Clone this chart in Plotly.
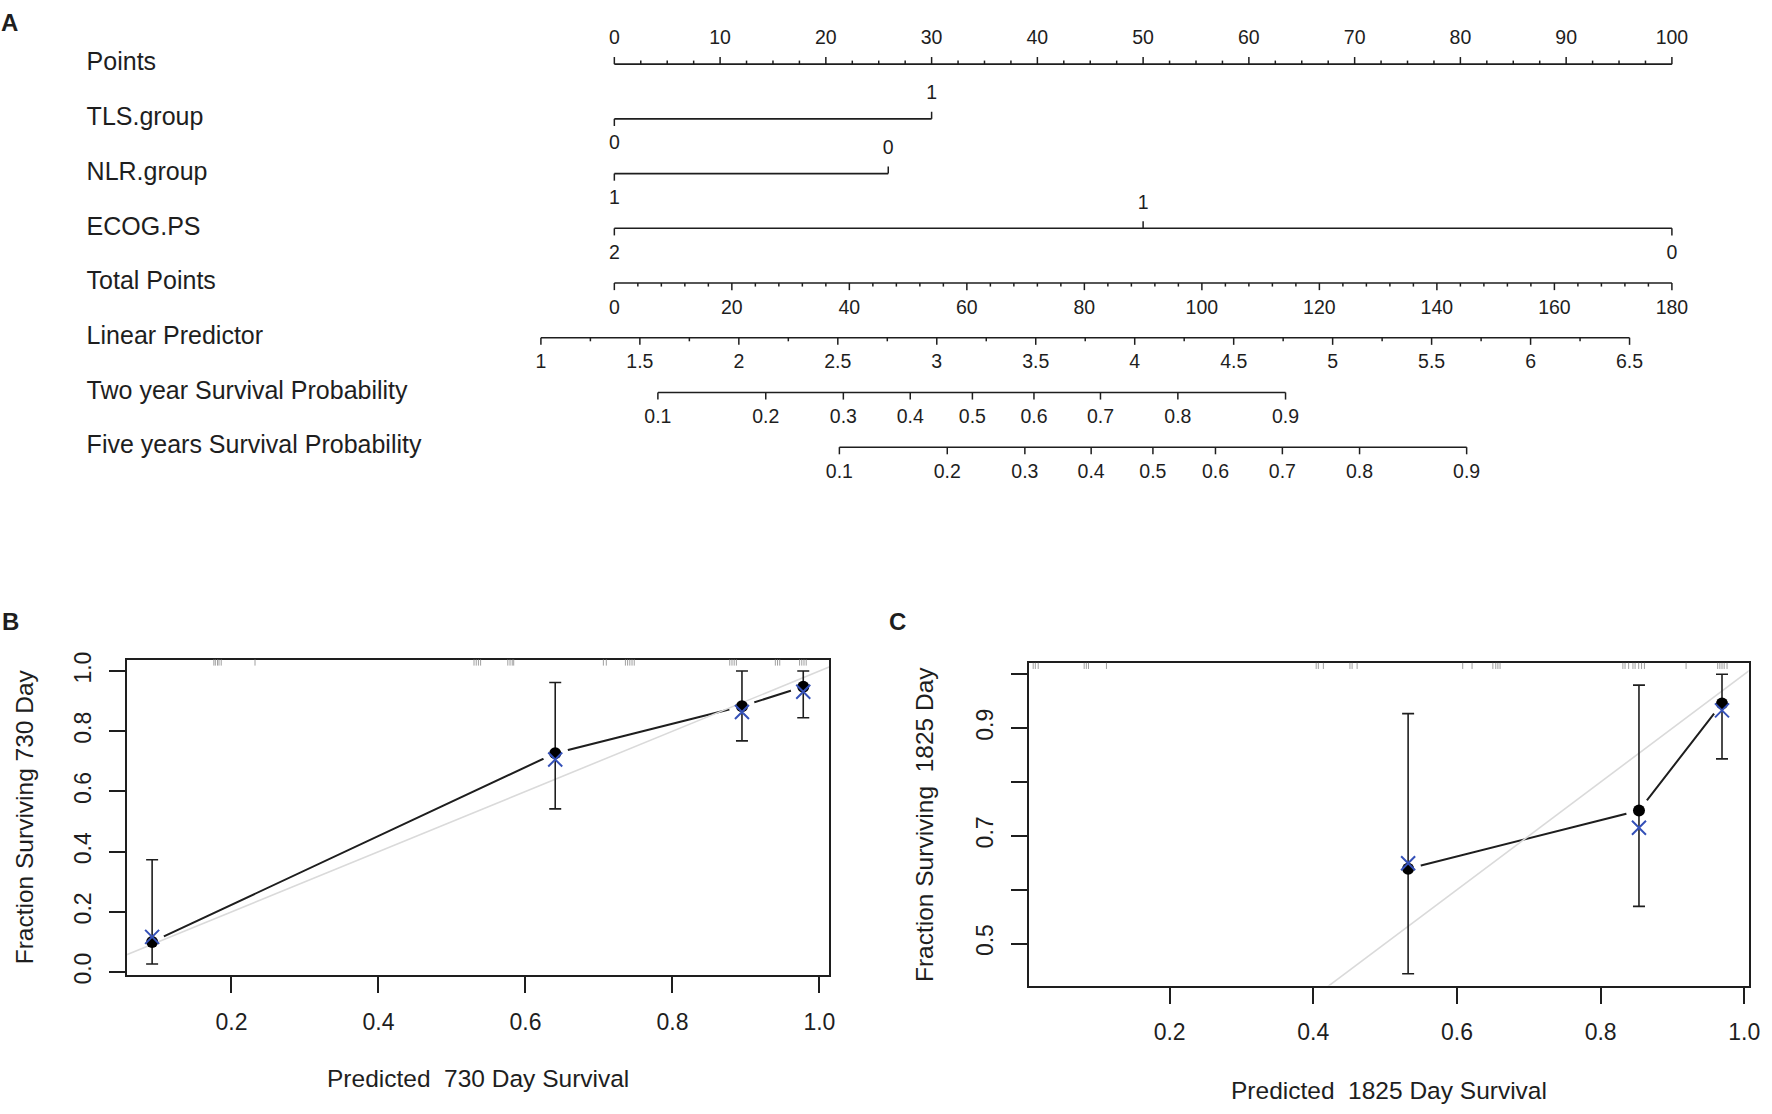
import numpy as np
import plotly.graph_objects as go

FONT = "Liberation Sans, Arial, sans-serif"
INK = "#1e1e1e"
BLUE = "#3551b8"
W, H = 1772, 1114

# ---------------- panel A: nomogram ----------------
row_names = ["Points", "TLS.group", "NLR.group", "ECOG.PS", "Total Points",
             "Linear Predictor", "Two year Survival Probability",
             "Five years Survival Probability"]

points_ticks = [0, 10, 20, 30, 40, 50, 60, 70, 80, 90, 100]

tls_levels = ["0", "1"]
tls_points = [0, 30]
tls_sides = ["below", "above"]

nlr_levels = ["1", "0"]
nlr_points = [0, 25.9]
nlr_sides = ["below", "above"]

ecog_levels = ["2", "1", "0"]
ecog_points = [0, 50, 100]
ecog_sides = ["below", "above", "below"]

total_ticks = [0, 20, 40, 60, 80, 100, 120, 140, 160, 180]
total_max = 180

lp_ticks = [1, 1.5, 2, 2.5, 3, 3.5, 4, 4.5, 5, 5.5, 6, 6.5]
lp_at_0, lp_at_100 = 1.371, 6.714

surv_probs = [0.1, 0.2, 0.3, 0.4, 0.5, 0.6, 0.7, 0.8, 0.9]
two_year_lp = [1.591, 2.136, 2.528, 2.866, 3.180, 3.491, 3.827, 4.218, 4.762]
five_year_lp = [2.508, 3.053, 3.445, 3.780, 4.092, 4.408, 4.746, 5.136, 5.677]

# ---------------- panel B / C: calibration ----------------
pred_730 = [0.092, 0.6405, 0.8946, 0.978]
obs_730 = [0.100, 0.727, 0.883, 0.948]
corr_730 = [0.117, 0.706, 0.864, 0.931]
lo_730 = [0.027, 0.542, 0.768, 0.845]
hi_730 = [0.373, 0.962, 1.0, 1.0]
rug_730 = [0.176, 0.178, 0.181, 0.183, 0.186, 0.232, 0.530, 0.533, 0.536, 0.539,
           0.576, 0.579, 0.582, 0.584, 0.706, 0.710, 0.736, 0.739, 0.742, 0.745,
           0.748, 0.878, 0.881, 0.884, 0.887, 0.940, 0.943, 0.946, 0.973, 0.976,
           0.979, 0.982]

pred_1825 = [0.532, 0.8534, 0.969]
obs_1825 = [0.639, 0.747, 0.946]
corr_1825 = [0.649, 0.715, 0.933]
lo_1825 = [0.444, 0.569, 0.843]
hi_1825 = [0.927, 0.980, 1.0]
rug_1825 = [0.010, 0.013, 0.017, 0.081, 0.084, 0.087, 0.112, 0.404, 0.407, 0.414,
            0.451, 0.454, 0.461, 0.608, 0.621, 0.650, 0.654, 0.657, 0.660, 0.831,
            0.834, 0.839, 0.845, 0.848, 0.853, 0.857, 0.861, 0.919, 0.963, 0.966,
            0.969, 0.972, 0.976]


def lp_to_points(v):
    return [(x - lp_at_0) / (lp_at_100 - lp_at_0) * 100 for x in v]


fig = go.Figure()

TICK, MINOR = 0.13, 0.065
ABOVE, BELOW = -0.45, 0.47


def scale_row(row, pos, labels, sides, minor=(), minor_side="below"):
    fig.add_trace(go.Scatter(
        x=[min(pos), max(pos)], y=[row, row], mode="lines",
        line=dict(color=INK, width=1.6), xaxis="x", yaxis="y",
        hoverinfo="skip", showlegend=False))
    xs, ys = [], []
    for p, s in zip(pos, sides):
        d = -TICK if s == "above" else TICK
        xs += [p, p, None]
        ys += [row, row + d, None]
    dm = -MINOR if minor_side == "above" else MINOR
    for p in minor:
        xs += [p, p, None]
        ys += [row, row + dm, None]
    fig.add_trace(go.Scatter(
        x=xs, y=ys, mode="lines", line=dict(color=INK, width=1.5),
        xaxis="x", yaxis="y", hoverinfo="skip", showlegend=False))
    fig.add_trace(go.Scatter(
        x=pos, y=[row + (ABOVE if s == "above" else BELOW) for s in sides],
        text=labels, mode="text", textposition="middle center",
        textfont=dict(family=FONT, size=19.5, color=INK),
        xaxis="x", yaxis="y", hoverinfo="skip", showlegend=False))


# Points
scale_row(0, points_ticks, [str(v) for v in points_ticks],
          ["above"] * len(points_ticks),
          minor=[v for v in np.arange(0, 100.01, 2.5) if v % 10],
          minor_side="above")
# categorical predictors
scale_row(1, tls_points, tls_levels, tls_sides)
scale_row(2, nlr_points, nlr_levels, nlr_sides)
scale_row(3, ecog_points, ecog_levels, ecog_sides)
# Total points
tot_pos = [v * 100 / total_max for v in total_ticks]
tot_minor = [v * 100 / total_max for v in np.arange(0, 180.1, 4) if v % 20]
scale_row(4, tot_pos, [str(v) for v in total_ticks], ["below"] * len(tot_pos),
          minor=tot_minor)
# Linear predictor
lp_minor = lp_to_points([v for v in np.arange(1, 6.51, 0.25) if (v * 2) % 1])
scale_row(5, lp_to_points(lp_ticks), [f"{v:g}" for v in lp_ticks],
          ["below"] * len(lp_ticks), minor=lp_minor)
# survival probabilities
scale_row(6, lp_to_points(two_year_lp), [f"{v:g}" for v in surv_probs],
          ["below"] * len(surv_probs))
scale_row(7, lp_to_points(five_year_lp), [f"{v:g}" for v in surv_probs],
          ["below"] * len(surv_probs))

fig.add_trace(go.Scatter(
    x=[-49.9] * len(row_names), y=list(range(len(row_names))), text=row_names,
    mode="text", textposition="middle right",
    textfont=dict(family=FONT, size=25, color=INK),
    xaxis="x", yaxis="y", hoverinfo="skip", showlegend=False))


# ---------------- calibration panels ----------------
def calib_panel(xa, ya, pred, obs, corr, lo, hi):
    fig.add_trace(go.Scatter(x=pred, y=obs, mode="lines",
                             line=dict(color=INK, width=2), xaxis=xa, yaxis=ya,
                             hoverinfo="skip", showlegend=False))
    # gaps around the points (type="b")
    fig.add_trace(go.Scatter(x=pred, y=obs, mode="markers",
                             marker=dict(color="white", size=26),
                             xaxis=xa, yaxis=ya, hoverinfo="skip", showlegend=False))
    fig.add_trace(go.Scatter(x=[0, 1.1], y=[0, 1.1], mode="lines",
                             line=dict(color="#dadada", width=1.6), xaxis=xa, yaxis=ya,
                             hoverinfo="skip", showlegend=False))
    fig.add_trace(go.Scatter(
        x=pred, y=obs, mode="markers",
        marker=dict(color="black", size=12),
        error_y=dict(type="data", symmetric=False,
                     array=[h - o for h, o in zip(hi, obs)],
                     arrayminus=[o - l for o, l in zip(obs, lo)],
                     color=INK, thickness=1.6, width=6),
        xaxis=xa, yaxis=ya, hoverinfo="skip", showlegend=False))
    fig.add_trace(go.Scatter(
        x=pred, y=corr, mode="markers",
        marker=dict(symbol="x-thin", size=14, line=dict(width=2, color=BLUE)),
        xaxis=xa, yaxis=ya, hoverinfo="skip", showlegend=False))


calib_panel("x2", "y2", pred_730, obs_730, corr_730, lo_730, hi_730)
calib_panel("x3", "y3", pred_1825, obs_1825, corr_1825, lo_1825, hi_1825)

shapes = []
for xa, ya, rug in (("x2", "y2", rug_730), ("x3", "y3", rug_1825)):
    for r in rug:
        shapes.append(dict(type="line", xref=xa, yref=f"{ya} domain",
                           x0=r, x1=r, y0=1, y1=0.981,
                           line=dict(color="#a0a0a0", width=1)))


def px_x(a, b):
    return [a / W, b / W]


def px_y(top, bottom):
    return [1 - bottom / H, 1 - top / H]


x_ticks = [0.2, 0.4, 0.6, 0.8, 1.0]
common = dict(ticks="outside", ticklen=16, tickwidth=1.6, tickcolor=INK,
              showline=True, mirror=True, linecolor=INK, linewidth=2,
              showgrid=False, zeroline=False, fixedrange=True,
              tickfont=dict(family=FONT, size=23, color=INK))

b_y_ticks = [0.0, 0.2, 0.4, 0.6, 0.8, 1.0]
c_y_ticks = [0.5, 0.6, 0.7, 0.8, 0.9, 1.0]
c_y_text = ["0.5", "", "0.7", "", "0.9", ""]


def note(text, x, y, size=24.5, angle=0, bold=False):
    return dict(text=f"<b>{text}</b>" if bold else text, x=x / W, y=1 - y / H,
                xref="paper", yref="paper", showarrow=False, textangle=angle,
                font=dict(family=FONT, size=size, color=INK),
                xanchor="center", yanchor="middle")


annotations = [
    note("A", 10, 15, size=24, bold=True),
    note("B", 11, 623, size=24, bold=True),
    note("C", 904, 623, size=24, bold=True),
    note("Predicted\u00a0\u00a0730 Day Survival", 481, 1087),
    note("Fraction Surviving 730 Day", 25, 821, angle=-90),
    note("Predicted\u00a0\u00a01825 Day Survival", 1398, 1099),
    note("Fraction Surviving\u00a0\u00a01825 Day", 931, 829, angle=-90),
]

fig.update_layout(
    width=W, height=H, margin=dict(l=0, r=0, t=0, b=0),
    paper_bgcolor="white", plot_bgcolor="white",
    font=dict(family=FONT, color=INK),
    xaxis=dict(domain=[0, 1], range=[-58.09, 108.33], visible=False, fixedrange=True),
    yaxis=dict(domain=px_y(0, 520), range=[8.332, -1.026], visible=False, fixedrange=True),
    xaxis2=dict(domain=px_x(128, 835), range=[0.058, 1.0135], anchor="y2",
                tickvals=x_ticks, ticktext=[f"{v:.1f}" for v in x_ticks],
                ticklabelstandoff=9, **common),
    yaxis2=dict(domain=px_y(661.7, 982.3), range=[-0.0108, 1.038], anchor="x2",
                tickvals=b_y_ticks, ticktext=[f"{v:.1f}" for v in b_y_ticks],
                tickangle=-90, ticklabelstandoff=9, **common),
    xaxis3=dict(domain=px_x(1036.4, 1760.5), range=[0.0047, 1.006], anchor="y3",
                tickvals=x_ticks, ticktext=[f"{v:.1f}" for v in x_ticks],
                ticklabelstandoff=9, **common),
    yaxis3=dict(domain=px_y(665, 992.7), range=[0.422, 1.0213], anchor="x3",
                tickvals=c_y_ticks, ticktext=c_y_text,
                tickangle=-90, ticklabelstandoff=9, **common),
    shapes=shapes,
    annotations=annotations,
)

# page body margin would shift the fixed-size figure off the window origin
fig.write_html("out.html", config={"displayModeBar": False},
               post_script="document.body.style.margin = '0px';"
                           "document.body.style.overflow = 'hidden';")
